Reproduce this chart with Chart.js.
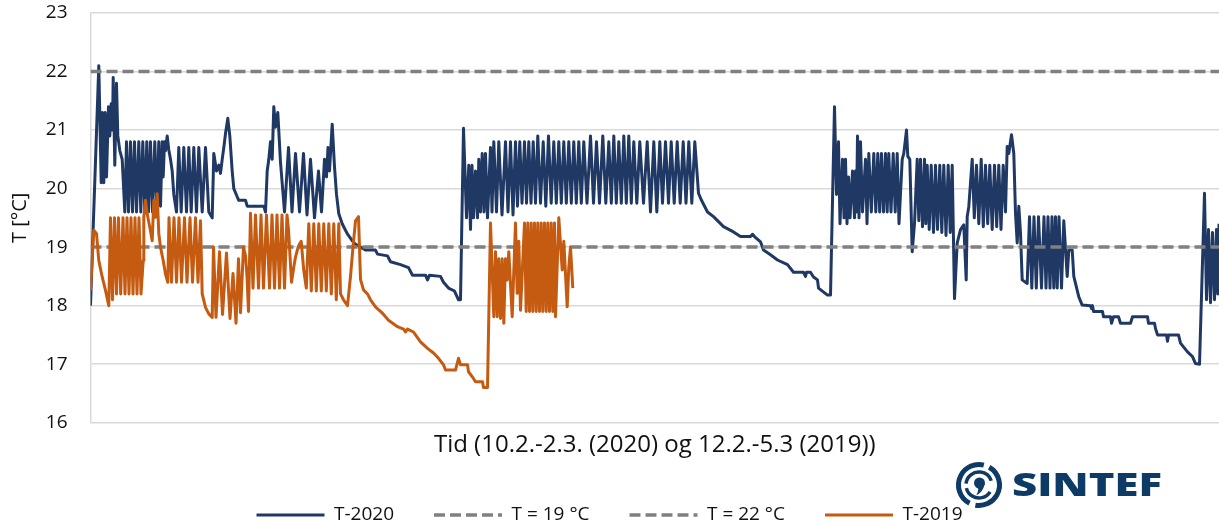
<!DOCTYPE html>
<html>
<head>
<meta charset="utf-8">
<script src="https://cdn.jsdelivr.net/npm/chart.js@4.4.1/dist/chart.umd.min.js"></script>
<style>
html,body{margin:0;padding:0;background:#fff;}
#wrap{width:1219px;height:523px;}
</style>
</head>
<body>
<div id="wrap"><canvas id="c" width="1219" height="523"></canvas></div>
<script>
// Indoor temperature log: [sample number, °C]; one reading roughly every 27 minutes.
const series2020 = [
[0,18.0],[8.3,22.1],[10.7,20.1],[12,21.3],[13.3,20.1],[14.7,21.3],[16,20.2],[18,21.4],[19.3,20.9],[20.7,21.45],[22,21.0],[22.7,21.9],[24.3,20.4],[26,21.8],[27.3,20.9],[29.3,20.65],[31.7,20.5],[34.3,19.6],
[36,20.8],[38,19.6],[40,20.8],[42,19.6],[44,20.8],[46,19.6],[48.3,20.8],[50.3,19.6],[52.3,20.8],[54.3,19.6],[56.3,20.8],[58,19.6],[60,20.8],[62,19.6],[64.3,20.8],[66.3,19.6],[68.3,20.8],[70,19.7],[71.7,20.8],[72.7,20.2],[74,20.8],[75,20.65],[76.7,20.9],[78.3,20.66],[80,20.5],[81.7,20.3],[83.3,19.9],[86,19.6],
[88.3,20.7],[90.7,19.6],[93.3,20.7],[96,19.6],[98.3,20.7],[100.7,19.6],[103.3,20.7],[106,19.6],[108.3,20.7],[111.7,19.6],[115,20.7],[118.3,19.6],[121.7,19.5],
[123.3,20.6],[126,20.3],[128.3,20.4],[130,20.26],[131.7,20.5],[133.3,20.7],[135,20.94],[137.3,21.2],[139.3,20.9],[141.7,20.3],[143.3,20.0],[146.7,19.86],[148.3,19.8],[155,19.8],[156.7,19.7],[173.3,19.7],[175,19.6],
[176.7,20.3],[178.3,20.5],[180,20.8],[181.7,20.5],[183.3,21.4],[185,21.05],[187.3,21.3],[190,20.45],[194,19.6],[198,20.7],[201.5,19.6],[205,20.6],[209,19.6],[213,20.6],[216.5,19.55],[220,20.5],[224,19.5],[228,20.3],[231,19.6],[234,20.5],[236,20.2],[237.5,20.7],[239,20.3],[241.7,21.1],[244,20.37],[246,19.9],[248.3,19.57],[251.7,19.4],[256.7,19.23],[261.7,19.11],
[265,19.05],[270,19.0],[275,18.95],[285,18.95],[287,18.88],[297,18.85],[300,18.75],[310,18.7],[318,18.65],[322,18.52],[335,18.52],[337,18.44],[339,18.52],[350,18.5],[353,18.4],[358,18.3],[364,18.25],[368,18.1],[370,18.1],
[373,21.03],[376,19.5],[378.3,20.4],[380,19.3],[381.5,20.4],[383,19.5],[385,20.3],[387,19.5],[388.3,20.5],[390,19.6],[391.7,20.6],[393.5,19.6],[395,20.6],[397,19.5],[400,20.7],[401.5,19.6],[403.3,20.8],[406,19.6],
[408.3,20.8],[411.5,19.55],[415,20.8],[417.5,19.6],[420,20.8],[422.5,19.55],[425,20.8],[427,19.7],[429.3,20.8],[431.5,19.75],[434,20.8],[436,19.75],[438.3,20.8],[440.5,19.75],[442.7,20.8],[445,19.75],[447.3,20.9],[450,19.75],[452.7,20.8],[455.3,19.7],[458,20.9],[460.7,19.75],[463.3,20.8],[465.8,19.75],[468.3,20.8],[470.8,19.75],[473.3,20.8],[475.8,19.75],[478.3,20.8],[480.8,19.75],[483.3,20.8],[485.8,19.75],[488.3,20.8],[490.8,19.75],[493.3,20.8],[496.5,19.75],[500,20.9],[503,19.75],[506,20.8],[509,19.75],[512.3,20.9],[515.3,19.75],[518.3,20.8],[520.8,19.75],[523.3,20.9],[525.8,19.75],[528.3,20.8],[530.8,19.75],[533.3,20.9],[535.8,19.75],[538.3,20.9],[540.8,19.75],[543.3,20.8],[546.3,19.75],[549.3,20.8],[553,19.75],[556.7,20.8],[560,19.6],[563.3,20.8],[566.3,19.6],[569.3,20.8],[572,19.75],[575,20.8],[578,19.75],[580.7,20.8],[583.7,19.75],[586.7,20.8],[589.7,19.75],[592.7,20.8],[595.5,19.75],[598.3,20.8],[601.3,19.75],[604.3,20.8],
[608,19.92],[611,19.8],[617,19.6],[623,19.52],[633,19.35],[643,19.26],[650,19.18],[660,19.18],[662,19.22],[664,19.18],[670,19.09],[673,18.95],[680,18.87],[687,18.78],[697,18.7],[703,18.57],[713,18.57],[715,18.5],[716,18.57],[720,18.57],[723,18.49],[727,18.44],[728,18.3],[737,18.18],[740,18.18],
[744,21.4],[746,19.9],[748,20.8],[749.5,19.4],[752,20.5],[753.5,19.5],[755,20.5],[756.5,19.4],[758,20.2],[759.5,19.5],[762,20.3],[764,19.5],[765,20.3],[766,19.6],[767,20.9],[768.5,19.5],[770,20.8],[772,19.6],[775,20.5],[776.5,19.4],[778.3,20.6],
[780.8,19.6],[783.3,20.6],[785.3,19.6],[787.3,20.6],[789.2,19.6],[791,20.6],[793,19.6],[795,20.6],[796.7,19.6],[798.3,20.6],[800.5,19.6],[802.7,20.6],[804.7,19.6],[806.7,20.6],[808.5,19.4],
[811.7,20.5],[813.3,20.6],[816,21.0],[817.3,20.55],[819.3,20.5],[821.7,18.92],
[824,19.4],[826.7,20.5],[828.3,19.45],[830,20.5],[832,19.35],[834,20.5],[835.3,19.4],[836.7,20.4],[838.7,19.3],[840.7,20.4],[843,19.25],[845,20.4],[847,19.3],[849.3,20.4],[851.3,19.25],[853.3,20.4],[855.5,19.2],[857.7,20.4],[859.7,19.25],[861.7,20.4],[864,18.12],
[866.7,19.07],[870,19.3],[873.3,19.38],[875.7,18.44],[876.7,19.52],[878.3,19.69],
[881.7,20.5],[883.8,19.5],[886,20.4],[888.3,19.4],[890.7,20.5],[892.8,19.35],[895,20.4],[897.2,19.4],[899.3,20.4],[901.7,19.3],[904,20.4],[906.2,19.35],[908.3,20.4],[910.5,19.3],[912.7,20.4],[915,19.6],
[916.7,20.72],[918.3,20.6],[921,20.92],[923.3,20.6],[925,19.58],[926.7,19.07],[928.3,19.7],[930,19.24],[931.7,18.44],[936.7,18.38],
[939,19.52],[941.3,18.3],[943.5,19.52],[945.8,18.3],[948,19.52],[951,18.3],[953.5,19.52],[955.5,18.3],[957.5,19.52],[959.5,18.3],[961.5,19.52],[963.3,18.3],[965,19.52],[966.7,18.3],[968.5,19.52],[971,18.3],[973.3,19.45],[976.7,18.5],[978.3,18.95],[981.7,18.95],[983.3,18.5],[988.3,18.15],[991.7,18.01],
[1000,18.0],[1001,17.95],[1002,18.0],[1003,17.9],[1012,17.9],[1013,17.81],[1020,17.81],[1021,17.7],[1023,17.81],[1028,17.81],[1030,17.7],[1040,17.7],[1042,17.81],[1057,17.81],[1058,17.7],[1064,17.7],[1065,17.61],[1067,17.5],[1076,17.5],[1077,17.39],[1078,17.5],[1088,17.5],[1090,17.36],[1097,17.21],[1102,17.13],[1105,17.01],[1109,17.0],
[1114,19.92],[1116,18.1],[1118,19.3],[1120,18.05],[1122,19.25],[1124,18.1],[1126,19.3],[1127.3,18.2],[1128.5,19.4]
];

const series2019 = [
[0,18.26],[3.3,19.29],[6,19.23],[8.3,18.77],[11.7,18.49],[15,18.26],[18.3,18.0],
[20,19.5],[22,18.1],[24,19.5],[26,18.2],[28,19.5],[30.2,18.2],[32.5,19.5],[34.5,18.2],[36.5,19.5],[38.5,18.2],[40.5,19.5],[42.5,18.2],[44.5,19.5],[46.5,18.2],[48.5,19.5],[50.5,18.2],
[52.7,18.77],[53.3,19.51],[55,19.8],[56.7,19.57],[59.3,19.34],[61.7,19.11],[63.3,19.8],[65,19.51],[66.7,19.91],[68.3,19.23],[70,19.0],[72.7,18.77],[75,18.54],[77.3,18.4],
[78.5,19.5],[81,18.4],[83.5,19.5],[86,18.4],[88.5,19.5],[91,18.4],[94,19.5],[96.5,18.4],[99.5,19.5],[102,18.4],[105,19.5],[107.5,18.4],[110,19.45],
[111.7,18.2],[113.3,18.09],[115,17.97],[118.3,17.86],[121.7,17.8],
[123,19.0],[125.5,17.8],[129,18.92],[132,17.85],[136,18.9],[139.5,17.78],[142.5,18.55],[145.5,17.7],[148,18.8],[150,17.88],[153,19.0],[155,18.85],[156.5,18.5],[158,17.9],[160,19.58],
[162.5,18.3],[165,19.55],[168,18.3],[170.5,19.55],[173,18.3],[176,19.55],[179,18.3],[181.5,19.55],[184,18.3],[186.5,19.55],[189,18.3],[191.5,19.55],[194,18.3],[196.5,19.55],
[198,19.3],[201,18.4],[203.3,18.66],[205,18.83],[206.7,18.94],[208.3,19.03],[210.7,19.1],[213.3,18.6],
[215.8,18.3],[218.3,19.4],[220.8,18.25],[223.3,19.4],[225.8,18.25],[228.3,19.4],[230.8,18.25],[233.3,19.4],[235.8,18.25],[238.3,19.4],[240.8,18.2],[243.3,19.4],[245.8,18.1],[248.3,19.4],[250,18.2],[253,18.1],[257,18.0],[260,18.5],[262.5,19.0],[265,19.45],[268,19.52],[270,18.45],[273,18.27],[277,18.2],[280,18.1],[285,17.98],[288,17.93],[292,17.87],[298,17.75],[307,17.64],[313,17.6],[315,17.55],[317,17.6],[323,17.55],[325,17.5],[330,17.38],[337,17.27],[343,17.19],[348,17.1],[353,16.99],[355,16.9],[365,16.9],[368,17.1],[370,16.99],[377,16.99],[378,16.87],[382,16.78],[385,16.7],[392,16.7],[393,16.6],[397,16.6],
[400,19.41],[403.3,17.81],[405,18.92],[406.7,17.81],[408.3,18.8],[410,17.78],[411.7,18.8],[413.3,17.7],[415,18.8],[416.7,18.44],[418.3,18.92],[421.7,17.81],[425,19.41],[426.7,18.21],[428.3,19.1],[430,17.92],
[434,19.41],[435.7,17.9],[437.3,19.41],[439,17.9],[440.7,19.41],[442.3,17.9],[444,19.41],[445.7,17.9],[447.3,19.41],[449,17.9],[450.7,19.41],[452.3,17.9],[454,19.41],[455.7,17.9],[457.3,19.41],[459,17.9],[460.7,19.41],[462.3,17.9],[464,19.41],
[465,17.81],[468.3,19.5],[471.7,18.61],[473.3,19.1],[476.7,17.98],[478.3,18.66],[480,19.0],[482.3,18.3]
];

const setpointLow = 19;
const setpointHigh = 22;
const firstSample = 0;
const lastSample = 1128.5;
const yTicks = [16, 17, 18, 19, 20, 21, 22, 23];
const seriesNames = ['T-2020', 'T = 19 °C', 'T = 22 °C', 'T-2019'];
const xTitle = 'Tid (10.2.-2.3. (2020) og 12.2.-5.3 (2019))';
const yTitle = 'T [°C]';

const toPoints = arr => arr.map(([x, y]) => ({ x, y }));
const flatLine = v => [{ x: firstSample, y: v }, { x: lastSample, y: v }];

const FONT = "'Open Sans', sans-serif";
Chart.defaults.font.family = FONT;
Chart.defaults.font.size = 19;
Chart.defaults.color = '#111';

// SINTEF word mark below the plot
const logoPlugin = {
  id: 'logo',
  afterDraw(chart) {
    const ctx = chart.ctx;
    const cx = 979, cy = 485;
    const blue = '#0d3b66';
    ctx.save();
    ctx.strokeStyle = blue;
    ctx.fillStyle = blue;
    ctx.lineCap = 'butt';
    ctx.lineWidth = 5;
    ctx.beginPath(); ctx.arc(cx, cy, 20.5, -1.05, 1.75); ctx.stroke();
    ctx.beginPath(); ctx.arc(cx, cy, 20.5, 2.05, 4.95); ctx.stroke();
    ctx.lineWidth = 3.5;
    ctx.beginPath(); ctx.arc(cx, cy, 13, 0.55, 2.9); ctx.stroke();
    ctx.beginPath(); ctx.arc(cx, cy, 13, 3.25, 5.95); ctx.stroke();
    ctx.beginPath(); ctx.arc(cx + 0.5, cy - 2, 5.5, 0, Math.PI * 2); ctx.fill();
    ctx.beginPath();
    ctx.moveTo(cx + 5.5, cy - 1);
    ctx.quadraticCurveTo(cx + 4, cy + 8, cx - 3, cy + 10);
    ctx.quadraticCurveTo(cx + 1, cy + 5, cx - 2, cy + 1);
    ctx.closePath();
    ctx.fill();
    ctx.font = "800 31px " + FONT;
    ctx.textBaseline = 'alphabetic';
    const w = ctx.measureText('SINTEF').width;
    ctx.translate(1012, 496);
    ctx.scale(150 / w, 1);
    ctx.fillText('SINTEF', 0, 0);
    ctx.restore();
  }
};

new Chart(document.getElementById('c'), {
  type: 'line',
  data: {
    datasets: [
      { label: seriesNames[0], data: toPoints(series2020), borderColor: '#1f3864', backgroundColor: '#1f3864', borderWidth: 3, order: 4 },
      { label: seriesNames[1], data: flatLine(setpointLow), borderColor: '#808080', backgroundColor: '#808080', borderWidth: 3.5, borderDash: [11, 5], order: 3 },
      { label: seriesNames[2], data: flatLine(setpointHigh), borderColor: '#808080', backgroundColor: '#808080', borderWidth: 3.5, borderDash: [11, 5], order: 2 },
      { label: seriesNames[3], data: toPoints(series2019), borderColor: '#c55a11', backgroundColor: '#c55a11', borderWidth: 3, order: 1 }
    ]
  },
  options: {
    responsive: false,
    animation: false,
    devicePixelRatio: 1,
    parsing: false,
    normalized: true,
    elements: {
      point: { radius: 0, hoverRadius: 0 },
      line: { tension: 0, borderJoinStyle: 'round', fill: false }
    },
    layout: { padding: { left: 0, right: 0, top: 13, bottom: -11.5 } },
    scales: {
      x: {
        type: 'linear',
        min: firstSample,
        max: lastSample,
        ticks: { display: false },
        grid: { display: false, drawTicks: false },
        border: { display: false },
        title: { display: true, text: xTitle, color: '#111', font: { size: 24 }, padding: { top: 8, bottom: 6 } }
      },
      y: {
        min: yTicks[0],
        max: yTicks[yTicks.length - 1],
        afterBuildTicks: s => { s.ticks = yTicks.map(v => ({ value: v })); },
        afterFit: s => { s.width = 90.5; s.paddingTop = 0; s.paddingBottom = 0; },
        ticks: { padding: 23, color: '#111', font: { size: 19 } },
        grid: { color: '#d9d9d9', lineWidth: 1.5, drawTicks: false },
        border: { display: true, color: '#d9d9d9', width: 1.5 },
        title: { display: true, text: yTitle, color: '#111', font: { size: 20 }, padding: { top: 8, bottom: 0 } }
      }
    },
    plugins: {
      tooltip: { enabled: false },
      legend: {
        position: 'bottom',
        labels: {
          usePointStyle: true,
          pointStyle: 'line',
          pointStyleWidth: 68,
          padding: 40,
          color: '#111',
          font: { size: 19 },
          sort: (a, b) => a.datasetIndex - b.datasetIndex,
          generateLabels: chart => {
            const items = Chart.defaults.plugins.legend.labels.generateLabels(chart);
            items.forEach(item => {
              const ds = chart.data.datasets[item.datasetIndex];
              item.lineDash = ds.borderDash || [];
              item.lineWidth = ds.borderWidth;
              item.strokeStyle = ds.borderColor;
            });
            return items;
          }
        }
      }
    }
  },
  plugins: [logoPlugin]
});
</script>
</body>
</html>
